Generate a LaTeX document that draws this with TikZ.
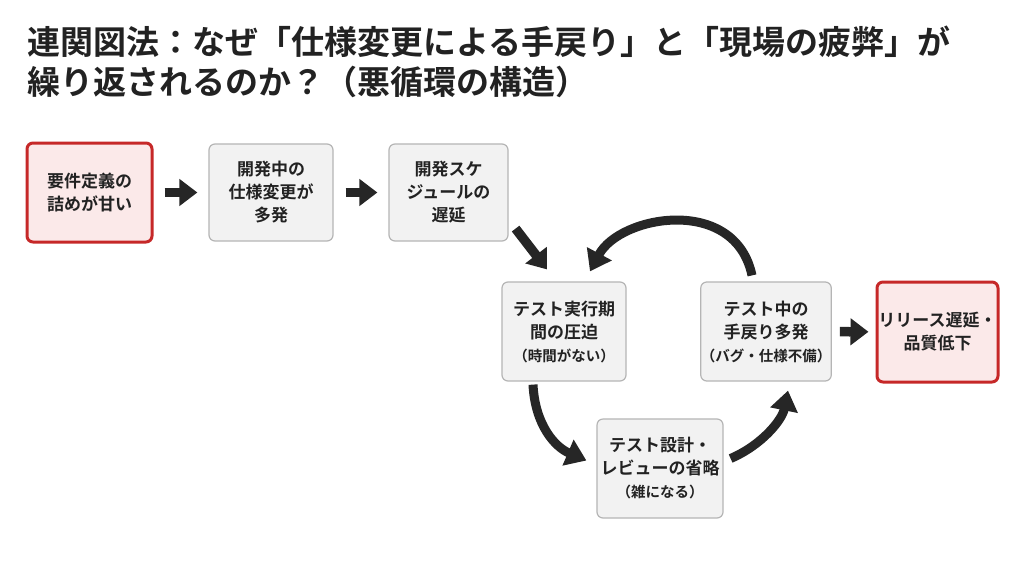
\documentclass[tikz,border=0pt]{standalone}
\usepackage{fontspec}
\setmainfont{Noto Sans CJK JP}[BoldFont={Noto Sans CJK JP Bold}]
\usetikzlibrary{arrows.meta,calc}
\definecolor{txt}{HTML}{222222}
\definecolor{arr}{HTML}{262626}
\definecolor{redline}{HTML}{C62828}
\definecolor{redfill}{HTML}{FBE9E9}
\definecolor{grayline}{HTML}{B5B5B5}
\definecolor{grayfill}{HTML}{F2F2F2}
\tikzset{
  box/.style={rounded corners=6pt, align=center, text=txt, inner sep=0pt,
    font=\fontsize{17}{23}\selectfont\bfseries},
  graybox/.style={box, draw=grayline, fill=grayfill, line width=1.2pt},
  redbox/.style={box, draw=redline, fill=redfill, line width=3pt},
  blockarrow/.style={draw=arr, line width=9.5pt, -{Triangle[length=18pt,width=26pt]}},
  curvearrow/.style={draw=arr, line width=9pt, -{Triangle[length=20pt,width=27pt]}},
  titletext/.style={anchor=west, text=txt, inner sep=0pt, font=\fontsize{33}{38}\selectfont\bfseries}
}
\newcommand{\sm}[1]{{\fontsize{14.5}{20}\selectfont #1}}
\begin{document}
\begin{tikzpicture}[x=1pt,y=-1pt]
\useasboundingbox (0,0) rectangle (1024,576);
\fill[white] (0,0) rectangle (1024,576);
\node[titletext] (t1) at (27,42) {連関図法：なぜ「仕様変更による手戻り」と「現場の疲弊」が};
\node[titletext] (t2) at (27,82) {繰り返されるのか？（悪循環の構造）};

\node[redbox, minimum width=125pt, minimum height=99pt] (A) at (89.5,192.5) {要件定義の\\詰めが甘い};
\node[graybox, minimum width=124pt, minimum height=97pt] (B) at (271,192.5) {開発中の\\仕様変更が\\多発};
\node[graybox, minimum width=119pt, minimum height=97pt] (C) at (448.5,192.5) {開発スケ\\ジュールの\\遅延};
\node[graybox, minimum width=124pt, minimum height=99pt] (D) at (564,331.5) {テスト実行期\\間の圧迫\\\sm{（時間がない）}};
\node[graybox, minimum width=126pt, minimum height=99pt] (E) at (766,331.5) {テスト中の\\手戻り多発\\\sm{（バグ・仕様不備）}};
\node[redbox, minimum width=121pt, minimum height=100pt] (F) at (937.5,332) {リリース遅延・\\品質低下};
\node[graybox, minimum width=126pt, minimum height=99pt] (G) at (660,468.5) {テスト設計・\\レビューの省略\\\sm{（雑になる）}};

\draw[blockarrow, shorten <=11pt, shorten >=11pt] (A) -- (B);
\draw[blockarrow, shorten <=12pt, shorten >=11pt] (B) -- (C);
\draw[blockarrow] ($(C.south east)+(7,-13)$) -- ($(D.north)+(-17,-12)$);
\draw[blockarrow, shorten <=8pt, shorten >=7pt] (E) -- (F);

\draw[curvearrow] ($(E.north)+(-14,-6)$) .. controls (735,195) and (620,215) .. ($(D.north)+(26,-10)$);
\draw[curvearrow] ($(D.south)+(-31,3)$) .. controls (535,425) and (555,447) .. ($(G.west)+(-10,-8)$);
\draw[curvearrow] ($(G.east)+(7,-10)$) .. controls (762,445) and (782,420) .. ($(E.south)+(22,9)$);
\end{tikzpicture}
\end{document}
